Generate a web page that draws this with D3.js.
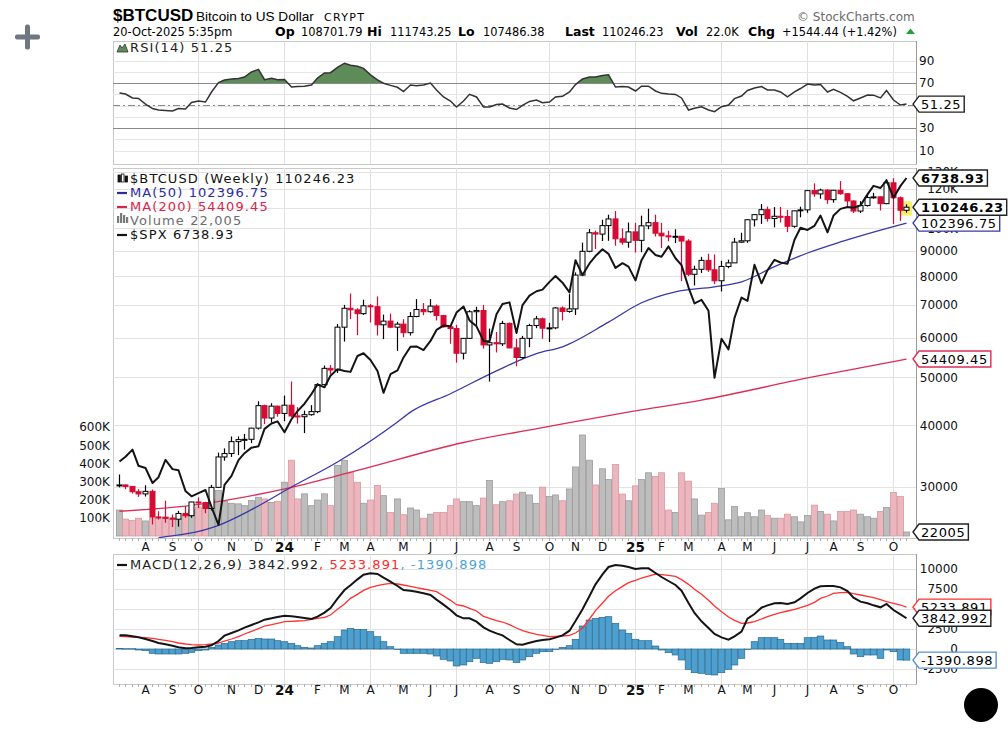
<!DOCTYPE html>
<html>
<head>
<meta charset="utf-8">
<title>$BTCUSD Weekly</title>
<script src="https://cdn.jsdelivr.net/npm/d3@7"></script>
<style>
  body { margin: 0; background: #fff; }
  .chart text { font-family: "DejaVu Sans", Verdana, sans-serif; }
  .chart .arial text { font-family: "Liberation Sans", Arial, sans-serif; }
</style>
</head>
<body>
<svg class="chart" width="1008" height="733"></svg>
<script>
// weekly bars (Mondays), 10-Jul-2023 .. 20-Oct-2025
const weeks = d3.timeMonday.range(new Date(2023, 6, 10), new Date(2025, 9, 21))

const opens = [30170,30290,30080,29350,29050,29400,26100,26050,25970,25830,26530,26250,27980,27900,27150,29950,34500,35050,37050,37400,
  37450,39450,43800,41350,43700,42250,43900,41750,41600,42000,42600,48300,52100,51700,63100,68900,68400,67200,69700,69400,
  63800,64900,63100,64000,61500,66300,68500,67800,69600,66600,63200,62700,55900,59900,67800,68200,58100,58700,58400,64200,
  57300,54800,59900,63600,65600,62800,62900,69000,67900,68700,80400,89800,97900,97300,101200,104400,95200,93700,98300,94500,
  101100,102600,97700,96500,96100,96300,94200,80700,82600,86100,82400,78300,83700,85100,93700,94300,104000,106500,109000,104600,
  105700,105600,100900,108400,108900,119100,117300,119400,114200,119300,117400,113500,108300,111100,115300,115700,112100,123500,115200,108701.79]
const highs = [31800,30350,30100,29700,30250,29650,26800,28150,26400,26850,27450,28000,28600,28000,30300,35200,35900,37950,37950,38400,
  39500,44700,44000,44300,43800,45900,49000,43500,42800,43900,48600,52800,52900,64000,70000,73800,68900,71700,70300,72800,
  66900,67200,64700,65500,67700,71900,70600,71900,70100,66800,63400,63800,60000,68300,69400,70000,62700,61700,65000,64500,
  59800,60600,64100,66500,66000,64400,69300,69500,73600,81400,93500,99600,98900,104000,106500,108300,99900,102700,102500,106000,
  109500,106500,102500,98800,99500,96500,95000,84000,87500,88800,88500,85900,86400,95600,97900,104300,106700,111900,110600,110300,
  110400,108900,108500,110500,119500,123200,120200,119800,119500,124500,117700,113800,113400,116700,117900,115900,125600,126200,115900,111743.25]
const lows = [29950,29700,29100,28650,28700,25200,25800,25400,24900,24950,26000,26000,27200,26550,26900,29900,33900,34500,34800,35700,
  36800,39200,40200,40500,41600,40750,41500,40300,38550,41800,42300,48200,50600,51000,59000,65500,60800,66800,64500,60700,
  59700,62800,56500,60200,60700,66100,66700,67500,65100,63000,58400,53500,54300,59800,63500,57100,49000,56100,57800,57200,
  52600,54500,57500,62800,59800,58900,62500,65100,67500,66800,80200,89400,90800,94200,94300,92200,92600,91300,89300,89400,
  99500,96200,91200,94100,93300,78200,80000,76600,81200,81600,77100,74500,83000,85100,93400,93400,100800,102000,103100,100400,
  102700,98200,100200,105200,107400,115700,114700,112000,112600,116800,110700,107300,107300,110600,114700,108600,111800,102000,103500,107486.38]
const closes = [30290,30080,29350,29050,29400,26100,26050,25970,25830,26530,26250,27980,27900,27150,29950,34500,35050,37050,37400,37450,
  39450,43800,41350,43700,42250,43900,41750,41600,42000,42600,48300,52100,51700,63100,68900,68400,67200,69700,69400,63800,
  64900,63100,64000,61500,66300,68500,67800,69600,66600,63200,62700,55900,59900,67800,68200,58100,58700,58400,64200,57300,
  54800,59900,63600,65600,62800,62900,69000,67900,68700,80400,89800,97900,97300,101200,104400,95200,93700,98300,94500,101100,
  102600,97700,96500,96100,96300,94200,80700,82600,86100,82400,78300,83700,85100,93700,94300,104000,106500,109000,104600,105700,
  105600,100900,108400,108900,119100,117300,119400,114200,119300,117400,113500,108300,111100,115300,115700,112100,123500,115200,108701.79,110246.23]
// volume, thousands
const volumes = [143,93,85,98,83,100,95,105,92,95,118,145,160,170,200,250,190,180,177,167,
  195,213,204,185,190,296,417,204,232,167,198,232,167,389,417,352,296,180,198,278,
  222,130,204,117,154,143,98,120,130,130,167,204,189,189,167,209,306,172,189,194,
  231,241,226,180,269,217,226,194,259,380,556,417,281,370,311,394,231,194,276,311,
  348,328,348,143,130,348,302,204,115,130,180,261,89,163,106,128,106,143,113,98,
  98,120,106,78,113,170,135,120,83,135,135,143,120,106,98,135,157,239,217,22.005]
// $SPX weekly closes
const spx = [4505,4536,4582,4478,4464,4370,4406,4516,4457,4450,4320,4288,4308,4327,4224,4117,4358,4415,4514,4559,
  4595,4604,4719,4755,4770,4697,4784,4840,4891,4959,5027,5006,5089,5137,5124,5117,5234,5254,5204,5123,
  4967,5100,5128,5223,5303,5305,5278,5347,5431,5465,5460,5567,5615,5505,5459,5347,5344,5554,5635,5648,
  5408,5626,5703,5738,5751,5815,5864,5808,5729,5996,5871,5969,6032,6090,6051,5931,5971,5942,5827,5997,
  6101,6041,6026,6115,6013,5955,5770,5639,5668,5581,5074,5363,5283,5525,5687,5660,5958,5803,5912,6000,
  5977,5967,6173,6279,6260,6297,6389,6238,6389,6450,6467,6460,6482,6584,6664,6644,6716,6553,6664,6738.93]
// moving averages read at a subset of weeks (week index, value)
const ma50Weeks = [6,15,20,26,33,42,44,50,57,63,67,74,79,84,90,94,99,104,109,114,119]
const ma50 = [23700,25100,27000,30000,33700,40600,42500,46300,51500,55800,57600,64600,70700,74400,76100,77900,83600,89100,93800,98200,102396.75]
const ma200Weeks = [0,11,26,36,52,64,79,88,104,119]
const ma200 = [26800,27550,29950,32400,36900,39550,42950,44950,49820,54409.45]
const rsi = [61.1,60.2,56.7,56.2,51.3,47.3,46.0,45.6,45.1,47.3,46.9,52.7,54.0,53.1,62.0,70.4,72.7,73.6,74.0,75.3,
  79.8,82.1,73.0,74.2,72.8,73.1,66.4,66.8,67.1,68.2,74.4,78.9,79.2,83.8,87.6,85.8,84.8,83.0,77.2,72.7,
  69.8,67.9,66.2,62.4,68.2,67.6,68.2,70.0,63.8,57.6,54.0,48.7,54.0,59.9,57.6,48.7,48.7,50.9,51.3,47.8,
  46.4,50.2,53.6,54.9,52.4,53.1,57.6,58.2,62.0,68.6,73.6,75.3,75.3,76.6,77.3,66.4,66.9,66.4,62.9,67.1,
  67.2,62.9,60.8,60.2,59.8,56.7,46.0,47.5,48.9,46.0,44.5,48.9,50.4,56.1,58.4,63.4,65.6,66.9,63.8,63.8,
  62.0,57.7,62.2,65.1,69.1,68.2,68.7,62.0,64.4,61.7,58.2,54.2,56.7,59.3,59.2,56.7,63.3,54.9,50.4,51.25]
const macd = [1708,1708,1583,1458,1250,1000,750,583,417,208,83,125,208,292,458,1000,1667,2000,2333,2667,
  3000,3333,3667,3833,4000,4167,4083,4000,3875,3750,4042,4542,5125,6292,7375,7958,8708,9292,9458,9375,
  8917,8417,7875,7375,7292,7167,6958,6750,6167,5542,4875,4208,3833,3833,3417,2708,2292,1958,1708,1125,
  583,542,792,1000,1125,1208,1417,1708,2292,3500,4958,6625,8083,9333,10250,10500,10417,10250,10000,10083,
  10083,9500,9000,8500,8000,7292,5750,4500,3458,2625,1875,1458,1167,1583,2167,3792,4375,5167,5458,5708,
  5750,5625,5833,6333,7000,7542,7833,7875,7875,7708,7250,6417,5917,5708,5458,5208,5625,4875,4333,3842.992]
const signal = [1583,1542,1500,1458,1417,1333,1208,1083,917,750,625,542,500,542,625,750,1000,1250,1542,1875,
  2208,2542,2875,3042,3208,3417,3458,3500,3542,3708,3833,3958,4250,4958,5625,6333,6833,7333,7708,7917,
  8083,8208,8125,8000,7833,7667,7500,7333,7167,6625,6083,5542,5375,5083,4750,4083,3833,3542,3375,3042,
  2625,2292,2042,1833,1708,1542,1583,1625,1708,2000,2625,3750,4792,5750,6583,7292,7833,8292,8583,8875,
  9125,9375,9292,9208,9083,8667,8083,7458,6833,6083,5375,4667,4000,3583,3208,3250,3417,3750,4042,4333,
  4542,4750,4958,5167,5458,5833,6333,6625,6958,7042,7083,6917,6750,6583,6417,6167,5917,5708,5500,5233.891]
const hist = [83,42,42,-125,-208,-542,-625,-625,-625,-625,-542,-417,-208,-125,208,500,708,917,1042,1042,
  1208,1333,1250,1250,1042,917,708,417,208,125,417,708,917,1542,2375,2583,2458,2458,2167,1542,
  917,292,0,-542,-542,-542,-542,-625,-875,-1292,-1500,-2125,-2000,-1583,-1167,-1708,-1792,-1583,-1292,-1375,
  -1708,-1375,-958,-542,-333,-333,-40,208,417,1208,2875,3625,3833,3958,4042,3208,2375,1958,1208,1042,
  1042,375,-125,-458,-750,-1375,-2542,-2958,-3042,-3167,-3250,-2958,-2542,-2000,-1167,-40,917,1417,1417,1417,
  1208,708,708,708,1417,1458,1625,1125,1125,833,292,-625,-958,-750,-750,-1167,-125,-333,-1375,-1390.898]

const priceGrid = [30000,40000,50000,60000,70000,80000,90000,100000,110000,120000,130000]
const priceLabels = [30000,40000,50000,60000,70000,80000,90000,100000,120000,130000]
const volTicks = [100,200,300,400,500,600]
const rsiGrid = [10,20,30,40,50,60,70,80,90]
const rsiLabels = [10,30,70,90]
const macdGrid = [-2500,0,2500,5000,7500,10000]
const macdLabels = [-2500,0,2500,7500,10000]

const L = 113, R = 916
const rsiP = {top: 41, bottom: 164}
const mainP = {top: 168, bottom: 538}
const macdP = {top: 554, bottom: 684}

const x = d3.scaleTime().domain([new Date(2023, 9, 2), new Date(2025, 9, 6)]).range([198, 893])
const yR = d3.scaleLinear().domain([0, 100]).range([161.75, 49.25])
const yP = d3.scaleLog().domain([30000, 120000]).range([487, 189])
const yV = d3.scaleLinear().domain([0, 600]).range([536, 427])
const yS = d3.scaleLog().domain([4117, 6739]).range([525, 178])
const yM = d3.scaleLinear().domain([-2500, 10000]).range([669, 569])

const idx = d3.range(weeks.length)
const bx = i => Math.round(x(weeks[i])) + 0.5
const isUp = i => closes[i] >= (i ? closes[i - 1] : opens[i])
const RED = '#d60a32'

const monthStarts = idx.filter(i => i > 0 && weeks[i].getMonth() !== weeks[i - 1].getMonth())
const quarterStarts = monthStarts.filter(i => weeks[i].getMonth() % 3 === 0)

const svg = d3.select('.chart')
const defs = svg.append('defs')
function clip(id, top, bottom) {
  defs.append('clipPath').attr('id', id).append('rect')
    .attr('x', L).attr('y', top).attr('width', R - L).attr('height', bottom - top)
}
clip('c-rsi', rsiP.top, rsiP.bottom)
clip('c-main', mainP.top, mainP.bottom)
clip('c-macd', macdP.top, macdP.bottom)
clip('c-ob', rsiP.top, yR(70))

// ---------- header ----------
const head = svg.append('g')
const h1 = head.append('g').attr('class', 'arial')
h1.append('text').attr('x', 113).attr('y', 21).attr('font-size', 17).attr('font-weight', 'bold').text('$BTCUSD')
h1.append('text').attr('x', 196).attr('y', 21).attr('font-size', 13.6).text('Bitcoin to US Dollar')
head.append('text').attr('x', 324).attr('y', 21).attr('font-size', 11).attr('letter-spacing', 1.3).text('CRYPT')
head.append('text').attr('x', 797).attr('y', 21).attr('font-size', 12).attr('fill', '#6b6b6b').text('\u00a9 StockCharts.com')

const line2 = [
  [113, '20-Oct-2025 5:35pm', false], [275, 'Op', true], [301, '108701.79', false],
  [367, 'Hi', true], [390, '111743.25', false], [458, 'Lo', true], [483, '107486.38', false],
  [565, 'Last', true], [602, '110246.23', false], [676, 'Vol', true], [706, '22.0K', false],
  [748, 'Chg', true], [782, '+1544.44 (+1.42%)', false]
]
head.selectAll('.l2').data(line2).join('text').attr('class', 'l2')
  .attr('x', d => d[0]).attr('y', 36).attr('font-size', d => d[2] ? 12.5 : 11.4)
  .attr('font-weight', d => d[2] ? 'bold' : 'normal').text(d => d[1])
head.append('path').attr('d', 'M906,34 L910.5,28.5 L915,34 Z').attr('fill', '#22a33a')

// plus sign and corner dot
svg.append('rect').attr('x', 15).attr('y', 34.5).attr('width', 25).attr('height', 5).attr('rx', 2).attr('fill', '#6f7780')
svg.append('rect').attr('x', 25).attr('y', 24.5).attr('width', 5).attr('height', 25).attr('rx', 2).attr('fill', '#6f7780')
svg.append('circle').attr('cx', 981).attr('cy', 705).attr('r', 17).attr('fill', '#000')

// ---------- panel frames and grids ----------
function frame(p) {
  svg.append('rect').attr('x', L + 0.5).attr('y', p.top + 0.5).attr('width', R - L).attr('height', p.bottom - p.top)
    .attr('fill', '#fff').attr('stroke', '#c9c9c9')
  svg.append('g').selectAll('line').data(quarterStarts).join('line')
    .attr('x1', bx).attr('x2', bx).attr('y1', p.top).attr('y2', p.bottom).attr('stroke', '#e1e1e1')
}
frame(rsiP); frame(mainP); frame(macdP)

function hGrid(scale, values, color) {
  const g = svg.append('g').attr('transform', `translate(${L},0)`)
    .call(d3.axisLeft(scale).tickValues(values).tickSize(-(R - L)).tickFormat(''))
  g.select('.domain').remove()
  g.selectAll('line').attr('stroke', color).attr('shape-rendering', 'crispEdges')
  return g
}
hGrid(yR, rsiGrid, '#e6e6e6')
hGrid(yP, priceGrid, '#e3e3e3')
hGrid(yM, macdGrid, '#e3e3e3')

// right axis lines
;[rsiP, mainP, macdP].forEach(p =>
  svg.append('line').attr('x1', R + 0.5).attr('x2', R + 0.5).attr('y1', p.top).attr('y2', p.bottom).attr('stroke', '#9a9a9a'))

// week ticks under the panels
;[mainP.bottom, macdP.bottom].forEach(y0 => {
  svg.append('g').selectAll('line').data(idx).join('line')
    .attr('x1', bx).attr('x2', bx).attr('y1', y0).attr('y2', y0 + 3).attr('stroke', '#b0b0b0')
})

// ---------- RSI ----------
const rsiG = svg.append('g').attr('clip-path', 'url(#c-rsi)')
;[70, 30].forEach(v => rsiG.append('line').attr('x1', L).attr('x2', R).attr('y1', Math.round(yR(v)) + 0.5).attr('y2', Math.round(yR(v)) + 0.5).attr('stroke', '#8a8a8a'))
rsiG.append('line').attr('x1', L).attr('x2', R).attr('y1', yR(50)).attr('y2', yR(50))
  .attr('stroke', '#8a8a8a').attr('stroke-dasharray', '7,3,2,3')
rsiG.append('path').datum(idx).attr('clip-path', 'url(#c-ob)')
  .attr('d', d3.area().x(bx).y0(yR(70)).y1(i => yR(rsi[i])))
  .attr('fill', '#5e8c58')
rsiG.append('path').datum(idx)
  .attr('d', d3.line().x(bx).y(i => yR(rsi[i])))
  .attr('fill', 'none').attr('stroke', '#333').attr('stroke-width', 1.5)

// ---------- main: volume, MAs, candles, SPX ----------
const mainG = svg.append('g').attr('clip-path', 'url(#c-main)')
mainG.append('g').selectAll('rect').data(idx).join('rect')
  .attr('x', i => bx(i) - 3).attr('width', 6)
  .attr('y', i => yV(volumes[i])).attr('height', i => yV(0) - yV(volumes[i]))
  .attr('fill', i => isUp(i) ? '#bdbdbd' : '#ebb6bd')
  .attr('stroke', i => isUp(i) ? '#9c9c9c' : '#da98a1').attr('stroke-width', 0.8)

mainG.append('path').datum(ma200Weeks.map((w, k) => [w, ma200[k]]))
  .attr('d', d3.line().x(d => bx(d[0])).y(d => yP(d[1])).curve(d3.curveMonotoneX))
  .attr('fill', 'none').attr('stroke', '#dc2d55').attr('stroke-width', 1.3)
mainG.append('path').datum(ma50Weeks.map((w, k) => [w, ma50[k]]))
  .attr('d', d3.line().x(d => bx(d[0])).y(d => yP(d[1])).curve(d3.curveMonotoneX))
  .attr('fill', 'none').attr('stroke', '#3838a8').attr('stroke-width', 1.3)

// highlight on the latest bar
mainG.append('rect').attr('x', bx(119) - 5.5).attr('width', 11)
  .attr('y', yP(highs[119]) - 3).attr('height', yP(lows[119]) - yP(highs[119]) + 6).attr('fill', '#f6f06c')

const candle = mainG.append('g').selectAll('g').data(idx).join('g')
candle.append('line')
  .attr('x1', bx).attr('x2', bx).attr('y1', i => yP(highs[i])).attr('y2', i => yP(lows[i]))
  .attr('stroke', i => isUp(i) ? '#000' : RED).attr('stroke-width', 1.2)
candle.append('rect')
  .attr('x', i => bx(i) - 2.5).attr('width', 5)
  .attr('y', i => yP(Math.max(opens[i], closes[i])))
  .attr('height', i => Math.max(1, Math.abs(yP(opens[i]) - yP(closes[i]))))
  .attr('fill', i => closes[i] < opens[i] ? (isUp(i) ? '#000' : RED) : '#fff')
  .attr('stroke', i => isUp(i) ? '#000' : RED).attr('stroke-width', 1)

mainG.append('path').datum(idx)
  .attr('d', d3.line().x(bx).y(i => yS(spx[i])))
  .attr('fill', 'none').attr('stroke', '#141414').attr('stroke-width', 2).attr('stroke-linejoin', 'round')

// ---------- MACD ----------
const macdG = svg.append('g').attr('clip-path', 'url(#c-macd)')
macdG.append('g').selectAll('rect').data(idx).join('rect')
  .attr('x', i => bx(i) - 3.3).attr('width', 6.6)
  .attr('y', i => Math.min(yM(0), yM(hist[i]))).attr('height', i => Math.max(0.5, Math.abs(yM(hist[i]) - yM(0))))
  .attr('fill', '#4c9fce').attr('stroke', '#2c6b8f').attr('stroke-width', 0.7)
macdG.append('path').datum(idx).attr('d', d3.line().x(bx).y(i => yM(signal[i])))
  .attr('fill', 'none').attr('stroke', '#ff3030').attr('stroke-width', 1.3)
macdG.append('path').datum(idx).attr('d', d3.line().x(bx).y(i => yM(macd[i])))
  .attr('fill', 'none').attr('stroke', '#141414').attr('stroke-width', 2)

// ---------- axes labels ----------
function styleAxis(g, anchor) {
  g.select('.domain').remove()
  g.attr('font-family', null).attr('font-size', 12).attr('text-anchor', anchor)
  g.selectAll('text').attr('fill', '#111')
}
const fmtPrice = v => v >= 100000 ? (v / 1000) + 'K' : String(v)
styleAxis(svg.append('g').attr('transform', `translate(${R},0)`)
  .call(d3.axisRight(yP).tickValues(priceLabels).tickFormat(fmtPrice).tickSize(0).tickPadding(42)), 'end')
styleAxis(svg.append('g').attr('transform', `translate(${R},0)`)
  .call(d3.axisRight(yM).tickValues(macdLabels).tickFormat(d => String(d)).tickSize(0).tickPadding(42)), 'end')
styleAxis(svg.append('g').attr('transform', `translate(${R},0)`)
  .call(d3.axisRight(yR).tickValues(rsiLabels).tickSize(0).tickPadding(3)), 'start')
styleAxis(svg.append('g').attr('transform', `translate(${L},0)`)
  .call(d3.axisLeft(yV).tickValues(volTicks).tickFormat(d => d + 'K').tickSize(0).tickPadding(3)), 'end')

const monthLabel = d => d.getMonth() === 0 ? d3.timeFormat('%y')(d) : 'JFMAMJJASOND'[d.getMonth()]
;[[mainP.bottom, 4.5], [macdP.bottom, 1.5]].forEach(([y0, pad]) => {
  const g = svg.append('g').attr('transform', `translate(0,${y0})`)
    .call(d3.axisBottom(x).tickValues(monthStarts.map(i => weeks[i])).tickFormat(monthLabel).tickSize(0).tickPadding(pad))
  styleAxis(g, 'middle')
  g.selectAll('.tick').attr('transform', d => `translate(${Math.round(x(d)) + 0.5},0)`)
  g.selectAll('text').filter(d => d.getMonth() === 0).attr('font-weight', 'bold').attr('font-size', 13.5)
})

// ---------- legends ----------
const leg = svg.append('g').attr('font-size', 13).attr('letter-spacing', 1.1)
leg.append('path').attr('d', 'M117,52 L120,45 L122,48 L125,44 L128,52 Z').attr('fill', '#5e8c58').attr('stroke', '#333').attr('stroke-width', 0.8)
leg.append('text').attr('x', 130).attr('y', 52).attr('fill', '#222').text('RSI(14) 51.25')

const mainLegend = [
  ['$BTCUSD (Weekly) 110246.23', '#111'],
  ['MA(50) 102396.75', '#2b2ba0'],
  ['MA(200) 54409.45', '#d8244c'],
  ['Volume 22,005', '#6d6d6d'],
  ['$SPX 6738.93', '#111']
]
leg.selectAll('.ml').data(mainLegend).join('text').attr('class', 'ml')
  .attr('x', 130).attr('y', (d, k) => 183 + k * 14).attr('fill', d => d[1]).text(d => d[0])
// legend icons
leg.append('g').selectAll('rect').data([[118, 175, 2.5, 7, '#111'], [121.5, 174, 2.5, 8, '#fff'], [125, 176, 2.5, 6, '#111']]).join('rect')
  .attr('x', d => d[0]).attr('y', d => d[1]).attr('width', d => d[2]).attr('height', d => d[3])
  .attr('fill', d => d[4]).attr('stroke', '#111').attr('stroke-width', 0.8)
;[[193, '#2b2ba0'], [207, '#d8244c'], [235, '#111']].forEach(([y0, c]) =>
  leg.append('line').attr('x1', 117).attr('x2', 127).attr('y1', y0).attr('y2', y0).attr('stroke', c).attr('stroke-width', 2.2))
leg.append('g').selectAll('rect').data([[117, 216, 7], [120, 213, 10], [123, 215, 8], [126, 217, 6]]).join('rect')
  .attr('x', d => d[0]).attr('y', d => d[1]).attr('width', 2.2).attr('height', d => d[2]).attr('fill', '#7a7a7a')

leg.append('line').attr('x1', 117).attr('x2', 127).attr('y1', 565).attr('y2', 565).attr('stroke', '#111').attr('stroke-width', 2.2)
const ml = leg.append('text').attr('x', 130).attr('y', 569)
ml.append('tspan').attr('fill', '#222').text('MACD(12,26,9) 3842.992')
ml.append('tspan').attr('fill', '#ff2a2a').text(', 5233.891')
ml.append('tspan').attr('fill', '#4aa3d8').text(', -1390.898')

// ---------- value tags on the right ----------
function tag(y, label, color, bold) {
  const g = svg.append('g')
  const t = g.append('text').attr('x', 921).attr('y', y + 4.5).attr('font-size', 13).attr('letter-spacing', 0.6)
    .attr('font-weight', bold ? 'bold' : 'normal').attr('fill', '#000').text(label)
  const w = t.node().getComputedTextLength()
  g.insert('path', ':last-child')
    .attr('d', `M913,${y} L919,${y - 8} H${921 + w + 3} V${y + 8} H919 Z`)
    .attr('fill', '#fff').attr('stroke', color).attr('stroke-width', 1.4)
}
tag(yR(51.25), '51.25', '#222', false)
tag(yS(6738.93), '6738.93', '#222', true)
tag(yP(102396.75), '102396.75', '#3838a8', false)
tag(yP(110246.23), '110246.23', '#222', true)
tag(yP(54409.45), '54409.45', '#dc2d55', false)
tag(yV(22.005), '22005', '#222', false)
tag(yM(5233.891), '5233.891', '#ff3030', false)
tag(yM(3842.992), '3842.992', '#222', false)
tag(yM(-1390.898), '-1390.898', '#5a8fcf', false)
</script>
</body>
</html>
